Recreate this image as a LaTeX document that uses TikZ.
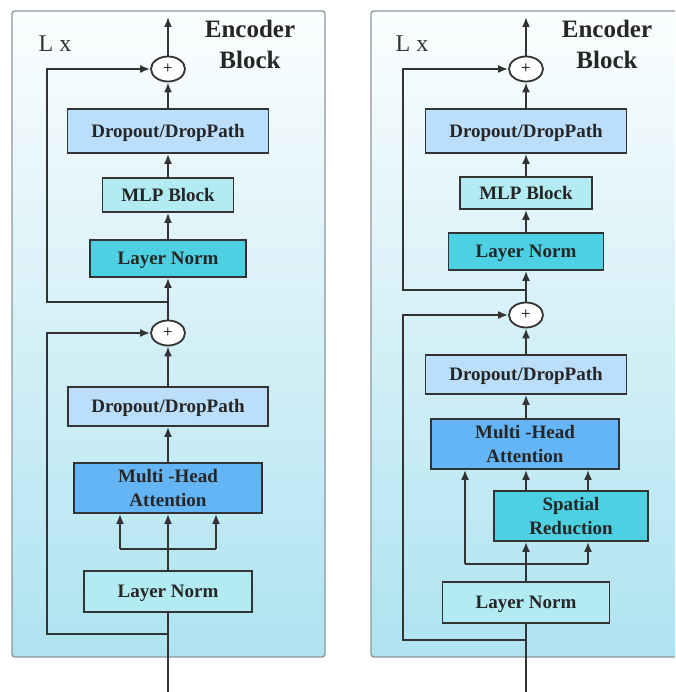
\documentclass[tikz,border=0pt]{standalone}
\usepackage{fontspec}
\setmainfont{Liberation Serif}
\usetikzlibrary{arrows.meta,shapes.geometric}
\definecolor{linec}{HTML}{333333}
\definecolor{panelborder}{HTML}{8A979C}
\definecolor{paneltop}{HTML}{FBFDFE}
\definecolor{panelbot}{HTML}{AEE3F0}
\definecolor{dropc}{HTML}{BBDEFB}
\definecolor{palec}{HTML}{B2EBF2}
\definecolor{turqc}{HTML}{4DD0E1}
\definecolor{mhac}{HTML}{64B5F6}
\begin{document}
\begin{tikzpicture}[x=1pt,y=-1pt,
  panel/.style={draw=panelborder,line width=1.4pt,rounded corners=3pt,top color=paneltop,bottom color=panelbot},
  blk/.style={draw=linec,line width=1.8pt,inner sep=0pt,align=center,text=black!85,text depth=1pt,
    font=\fontsize{19}{24}\selectfont\bfseries},
  plusn/.style={ellipse,draw=linec,line width=1.8pt,fill=white,minimum width=34pt,minimum height=25pt,inner sep=0pt,
    font=\fontsize{17}{17}\selectfont},
  conn/.style={draw=linec,line width=1.8pt},
  arr/.style={conn,-{Latex[length=10pt,width=8pt]}},
  title/.style={font=\fontsize{25}{31}\selectfont\bfseries,align=center,text=black!85},
  lx/.style={font=\fontsize{24}{24}\selectfont,text=black!80}
]
\useasboundingbox (0,0) rectangle (675,692);
\clip (0,0) rectangle (675,692);
% panels
\path[panel] (12,11) rectangle (325,657);
\path[panel] (371,11) rectangle (690,657);

% ===== Left block =====
\node[title] (tl) at (250,44) {Encoder\\Block};
\node[lx] (lxl) at (55,44) {L x};
\node[plusn] (p1a) at (168,69) {+};
\node[blk,fill=dropc,minimum width=201pt,minimum height=44pt] (dp1a) at (168,131) {Dropout/DropPath};
\node[blk,fill=palec,minimum width=131pt,minimum height=34pt] (mlp1) at (168,195) {MLP Block};
\node[blk,fill=turqc,minimum width=156pt,minimum height=37pt] (ln1a) at (168,258.5) {Layer Norm};
\node[plusn] (p1b) at (168,333) {+};
\node[blk,fill=dropc,minimum width=200pt,minimum height=39pt] (dp1b) at (168,406.5) {Dropout/DropPath};
\node[blk,fill=mhac,minimum width=188pt,minimum height=50pt] (mha1) at (168,488) {Multi -Head\\Attention};
\node[blk,fill=palec,minimum width=168pt,minimum height=41pt] (ln1b) at (168,591.5) {Layer Norm};
\coordinate (in1) at (168,692);
\coordinate (out1) at (168,17);
\coordinate (j1b) at (168,634);
\coordinate (c1b) at (47,634);
\coordinate (j1a) at (168,302);
\coordinate (c1a) at (47,302);
\coordinate (b1l) at (120,549);
\coordinate (b1r) at (216,549);

\draw[conn] (in1) -- (ln1b.south);
\draw[arr] (j1b) -- (c1b) |- (p1b.west);
\draw[arr] (ln1b.north) -- (mha1.south);
\draw[conn] (b1l) -- (b1r);
\draw[arr] (b1l) -- (b1l |- mha1.south);
\draw[arr] (b1r) -- (b1r |- mha1.south);
\draw[arr] (mha1.north) -- (dp1b.south);
\draw[arr] (dp1b.north) -- (p1b.south);
\draw[arr] (p1b.north) -- (ln1a.south);
\draw[arr] (j1a) -- (c1a) |- (p1a.west);
\draw[arr] (ln1a.north) -- (mlp1.south);
\draw[arr] (mlp1.north) -- (dp1a.south);
\draw[arr] (dp1a.north) -- (p1a.south);
\draw[arr] (p1a.north) -- (out1);

% ===== Right block =====
\node[title] (tr) at (607,44) {Encoder\\Block};
\node[lx] (lxr) at (412,44) {L x};
\node[plusn] (p2a) at (526,69) {+};
\node[blk,fill=dropc,minimum width=201pt,minimum height=44pt] (dp2a) at (526,131) {Dropout/DropPath};
\node[blk,fill=palec,minimum width=132pt,minimum height=32pt] (mlp2) at (526,193) {MLP Block};
\node[blk,fill=turqc,minimum width=155pt,minimum height=37pt] (ln2a) at (526,251.5) {Layer Norm};
\node[plusn] (p2b) at (526,315) {+};
\node[blk,fill=dropc,minimum width=201pt,minimum height=39pt] (dp2b) at (526,374.5) {Dropout/DropPath};
\node[blk,fill=mhac,minimum width=188pt,minimum height=50pt] (mha2) at (525,444) {Multi -Head\\Attention};
\node[blk,fill=turqc,minimum width=154pt,minimum height=50pt] (sr) at (571,516) {Spatial\\Reduction};
\node[blk,fill=palec,minimum width=167pt,minimum height=41pt] (ln2b) at (526,602.5) {Layer Norm};
\coordinate (in2) at (526,692);
\coordinate (out2) at (526,17);
\coordinate (j2b) at (526,640);
\coordinate (c2b) at (403,640);
\coordinate (j2a) at (526,290);
\coordinate (c2a) at (403,290);
\coordinate (b2l) at (465,564);
\coordinate (b2r) at (588,564);
\coordinate (s2m) at (526,541);

\draw[conn] (in2) -- (ln2b.south);
\draw[arr] (j2b) -- (c2b) |- (p2b.west);
\draw[arr] (ln2b.north) -- (ln2b.north |- sr.south);
\draw[conn] (b2l) -- (b2r);
\draw[arr] (b2l) -- (b2l |- mha2.south);
\draw[arr] (b2r) -- (b2r |- sr.south);
\draw[arr] (s2m |- sr.north) -- (s2m |- mha2.south);
\draw[arr] (b2r |- sr.north) -- (b2r |- mha2.south);
\draw[arr] (mha2.north -| s2m) -- (dp2b.south -| s2m);
\draw[arr] (dp2b.north) -- (p2b.south);
\draw[arr] (p2b.north) -- (ln2a.south);
\draw[arr] (j2a) -- (c2a) |- (p2a.west);
\draw[arr] (ln2a.north) -- (mlp2.south);
\draw[arr] (mlp2.north) -- (dp2a.south);
\draw[arr] (dp2a.north) -- (p2a.south);
\draw[arr] (p2a.north) -- (out2);
\end{tikzpicture}
\end{document}
